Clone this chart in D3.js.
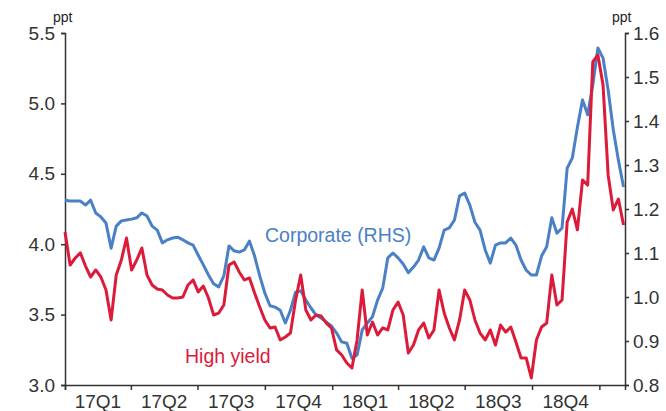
<!DOCTYPE html>
<html>
<head>
<meta charset="utf-8">
<script src="https://cdn.jsdelivr.net/npm/d3@7"></script>
<style>
  body { margin: 0; background: #fff; }
  svg text { font-family: "Liberation Sans", Arial, sans-serif; }
</style>
</head>
<body>
<div id="chart"></div>
<script>
// weekly observations, first one on 1 Jan 2017
const startDate = new Date(2017, 0, 1);

// High yield spread, ppt (left axis)
const highYield = [
  4.087, 3.852, 3.902, 3.938, 3.845, 3.767, 3.817, 3.767, 3.675, 3.462,
  3.781, 3.888, 4.044, 3.817, 3.888, 3.973, 3.781, 3.710, 3.682, 3.675,
  3.639, 3.618, 3.618, 3.625, 3.710, 3.746, 3.661, 3.703, 3.618, 3.497,
  3.511, 3.568, 3.852, 3.874, 3.803, 3.746, 3.760, 3.653, 3.554, 3.462,
  3.405, 3.412, 3.320, 3.341, 3.369, 3.604, 3.781, 3.533, 3.462, 3.497,
  3.490, 3.440, 3.405, 3.249, 3.213, 3.156, 3.121, 3.320, 3.675, 3.355,
  3.447, 3.355, 3.405, 3.391, 3.533, 3.589, 3.497, 3.227, 3.284, 3.391,
  3.440, 3.334, 3.391, 3.675, 3.511, 3.405, 3.320, 3.462, 3.675, 3.604,
  3.462, 3.369, 3.320, 3.391, 3.284, 3.426, 3.376, 3.412, 3.305, 3.192,
  3.192, 3.050, 3.320, 3.412, 3.440, 3.781, 3.568, 3.604, 4.158, 4.250,
  4.102, 4.456, 4.420, 5.294, 5.344, 5.130, 4.490, 4.243, 4.321, 4.136
];

// Corporate spread, ppt (right axis)
const corporate = [
  1.220, 1.218, 1.218, 1.218, 1.209, 1.220, 1.191, 1.182, 1.168, 1.111,
  1.161, 1.173, 1.175, 1.177, 1.180, 1.191, 1.184, 1.161, 1.152, 1.123,
  1.130, 1.134, 1.136, 1.130, 1.123, 1.118, 1.095, 1.073, 1.050, 1.030,
  1.023, 1.048, 1.116, 1.105, 1.102, 1.107, 1.127, 1.093, 1.048, 1.009,
  0.980, 0.977, 0.970, 0.941, 0.970, 1.011, 1.014, 0.993, 0.975, 0.959,
  0.952, 0.943, 0.934, 0.918, 0.898, 0.895, 0.861, 0.868, 0.925, 0.941,
  0.955, 0.993, 1.020, 1.089, 1.100, 1.089, 1.075, 1.055, 1.068, 1.084,
  1.114, 1.089, 1.084, 1.111, 1.152, 1.157, 1.175, 1.230, 1.236, 1.209,
  1.170, 1.152, 1.107, 1.077, 1.118, 1.123, 1.123, 1.134, 1.118, 1.084,
  1.061, 1.050, 1.050, 1.093, 1.114, 1.180, 1.145, 1.157, 1.293, 1.316,
  1.386, 1.448, 1.414, 1.482, 1.566, 1.543, 1.470, 1.380, 1.311, 1.250
];

const quarterLabels = ["17Q1", "17Q2", "17Q3", "17Q4", "18Q1", "18Q2", "18Q3", "18Q4"];
const leftTicks = [3.0, 3.5, 4.0, 4.5, 5.0, 5.5];
const rightTicks = [0.8, 0.9, 1.0, 1.1, 1.2, 1.3, 1.4, 1.5, 1.6];

const width = 666, height = 411;
const margin = { top: 33, right: 41, bottom: 26, left: 65 };
const fontSize = "19px";

const svg = d3.select("#chart").append("svg")
  .attr("width", width)
  .attr("height", height);

const dates = highYield.map((d, i) => d3.timeDay.offset(startDate, 7 * i));

const x = d3.scaleTime()
  .domain([startDate, new Date(2019, 1, 5)])
  .range([margin.left, width - margin.right]);

const yLeft = d3.scaleLinear().domain([3.0, 5.5]).range([height - margin.bottom, margin.top]);
const yRight = d3.scaleLinear().domain([0.8, 1.6]).range([height - margin.bottom, margin.top]);

const axisColor = "#333";

// left axis
const gl = svg.append("g")
  .attr("transform", "translate(" + margin.left + ",0)")
  .call(d3.axisLeft(yLeft).tickValues(leftTicks).tickFormat(d3.format(".1f")).tickSizeOuter(0).tickSize(4));

// right axis
const gr = svg.append("g")
  .attr("transform", "translate(" + (width - margin.right) + ",0)")
  .call(d3.axisRight(yRight).tickValues(rightTicks).tickFormat(d3.format(".1f")).tickSizeOuter(0).tickSize(4));

// bottom axis: ticks at quarter starts, labels in the middle of each quarter
const quarterStarts = d3.timeMonth.every(3).range(new Date(2017, 0, 1), new Date(2019, 0, 2));
const gb = svg.append("g")
  .attr("transform", "translate(0," + (height - margin.bottom) + ")")
  .call(d3.axisBottom(x).tickValues(quarterStarts).tickFormat("").tickSizeOuter(0).tickSize(5));

[gl, gr, gb].forEach(g => {
  g.select(".domain").attr("stroke", axisColor).attr("stroke-width", 1.5);
  g.selectAll(".tick line").attr("stroke", axisColor).attr("stroke-width", 1.5);
  g.selectAll(".tick text")
    .attr("fill", "#333")
    .style("font-size", fontSize);
});
gl.selectAll(".tick text").attr("x", -10);
gr.selectAll(".tick text").attr("x", 8);

svg.append("g")
  .selectAll("text")
  .data(quarterLabels)
  .join("text")
  .attr("x", (d, i) => (x(quarterStarts[i]) + x(quarterStarts[i + 1])) / 2)
  .attr("y", height - 3)
  .attr("text-anchor", "middle")
  .attr("fill", "#333")
  .style("font-size", fontSize)
  .text(d => d);

// unit labels
svg.append("text")
  .attr("x", 53).attr("y", 22)
  .attr("fill", "#222")
  .style("font-size", "14px")
  .text("ppt");
svg.append("text")
  .attr("x", 612).attr("y", 22)
  .attr("fill", "#222")
  .style("font-size", "14px")
  .text("ppt");

// lines
const lineLeft = d3.line()
  .x((d, i) => x(dates[i]))
  .y(d => yLeft(d));
const lineRight = d3.line()
  .x((d, i) => x(dates[i]))
  .y(d => yRight(d));

svg.append("path")
  .datum(corporate)
  .attr("fill", "none")
  .attr("stroke", "#4a80c6")
  .attr("stroke-width", 3)
  .attr("stroke-linejoin", "round")
  .attr("d", lineRight);

svg.append("path")
  .datum(highYield)
  .attr("fill", "none")
  .attr("stroke", "#dc1a3a")
  .attr("stroke-width", 3)
  .attr("stroke-linejoin", "round")
  .attr("d", lineLeft);

// series labels
svg.append("text")
  .attr("x", 265).attr("y", 242)
  .attr("fill", "#4a80c6")
  .style("font-size", "19.5px")
  .text("Corporate (RHS)");
svg.append("text")
  .attr("x", 185).attr("y", 363)
  .attr("fill", "#dc1a3a")
  .style("font-size", "19.5px")
  .text("High yield");
</script>
</body>
</html>
